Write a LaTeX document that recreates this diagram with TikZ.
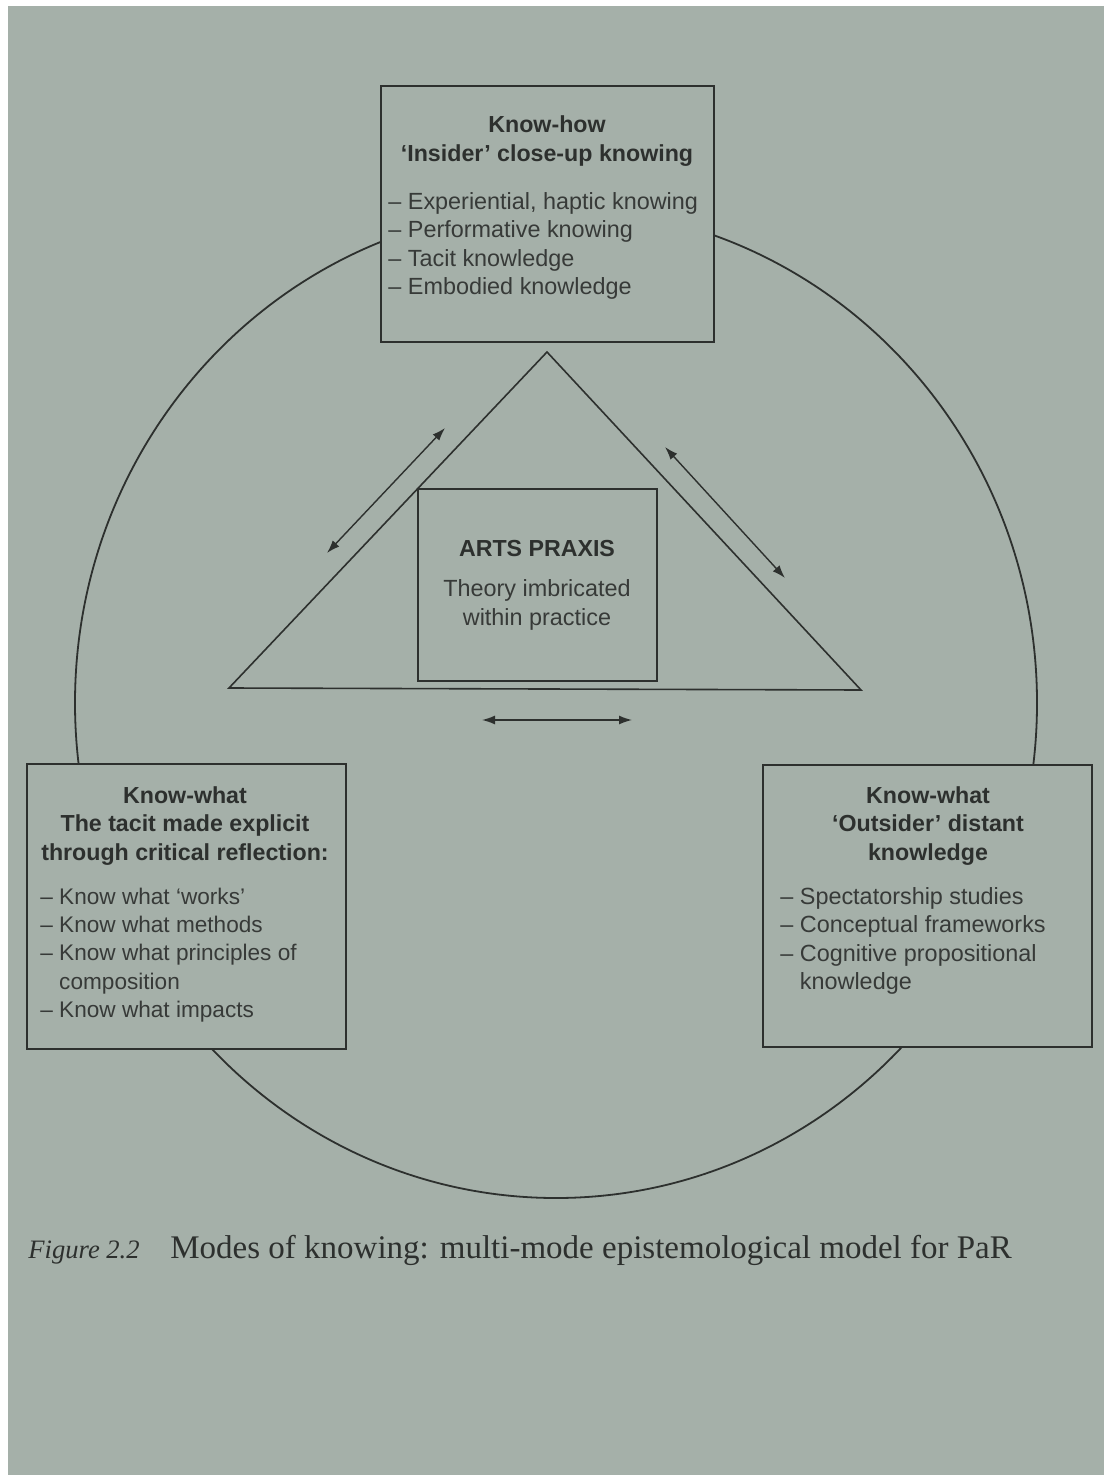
\documentclass[tikz,border=0pt]{standalone}
\usepackage{fontspec}
\setmainfont{Liberation Sans}
\newfontfamily\capfont{Liberation Serif}
\usetikzlibrary{arrows.meta}
\definecolor{paper}{RGB}{165,176,169}
\definecolor{ink}{RGB}{45,48,46}
\definecolor{softink}{RGB}{55,58,56}
\tikzset{
  panel/.style={draw=ink, line width=1pt, fill=paper, anchor=north west, inner sep=0pt},
  head/.style={text=ink, align=center, font=\bfseries\fontsize{11.6}{14.3}\selectfont, inner sep=0pt},
  body/.style={text=softink, align=left, font=\fontsize{11.7}{14.3}\selectfont, inner sep=0pt},
  bodyc/.style={text=softink, align=center, font=\fontsize{11.7}{14.3}\selectfont, inner sep=0pt},
  link/.style={draw=ink, line width=0.7pt, {Latex[length=6.5pt,width=4.5pt]}-{Latex[length=6.5pt,width=4.5pt]}},
  tri/.style={draw=ink, line width=0.8pt},
  ring/.style={draw=ink, line width=0.9pt}
}
\begin{document}
\begin{tikzpicture}[x=0.5pt,y=-0.5pt]
\useasboundingbox (0,0) rectangle (1104,1475);
\fill[white] (0,0) rectangle (1104,1475);
\fill[paper] (8,6) rectangle (1104,1475);

% outer ring
\draw[ring] (556,703) ellipse [x radius=481, y radius=495];

% triangle
\coordinate (apex) at (547,352);
\coordinate (bl) at (229,688);
\coordinate (br) at (861,690);
\draw[tri] (apex) -- (bl) -- (br) -- cycle;

% arrows
\coordinate (la1) at (445,428);
\coordinate (la2) at (327,553);
\coordinate (ra1) at (665,447);
\coordinate (ra2) at (785,578);
\coordinate (ba1) at (482,720);
\coordinate (ba2) at (632,720);
\draw[link] (la1) -- (la2);
\draw[link] (ra1) -- (ra2);
\draw[link] (ba1) -- (ba2);

% boxes
\node[panel, minimum width=166.5pt, minimum height=128pt] (topbox) at (380,85) {};
\node[panel, minimum width=159.5pt, minimum height=142.5pt] (leftbox) at (26,763) {};
\node[panel, minimum width=164.5pt, minimum height=141pt] (rightbox) at (762,764) {};
\node[panel, minimum width=119.5pt, minimum height=96pt, fill=none] (centerbox) at (417,488) {};

% top box text
\node[head] (tophead) at (547,141) {Know-how\\`Insider' close-up knowing};
\node[body, anchor=west] (toplist) at (388,246) {– Experiential, haptic knowing\\– Performative knowing\\– Tacit knowledge\\– Embodied knowledge};

% left box text
\node[head] (lefthead) at (185,826) {Know-what\\The tacit made explicit\\through critical reflection:};
\node[body, anchor=west, font=\fontsize{11.3}{14.2}\selectfont] (leftlist) at (40,955) {– Know what `works'\\– Know what methods\\– Know what principles of\\\phantom{– }composition\\– Know what impacts};

% right box text
\node[head] (righthead) at (928,826) {Know-what\\`Outsider' distant\\knowledge};
\node[body, anchor=west] (rightlist) at (780,941) {– Spectatorship studies\\– Conceptual frameworks\\– Cognitive propositional\\\phantom{– }knowledge};

% center text
\node[head] (centerhead) at (537,549) {ARTS PRAXIS};
\node[bodyc] (centerbody) at (537,605) {Theory imbricated\\within practice};

% caption
\node[text=ink, anchor=base west, inner sep=0pt, font=\capfont\itshape\fontsize{13.3}{15}\selectfont] (figlabel) at (28,1258) {Figure 2.2};
\node[text=ink, anchor=base west, inner sep=0pt, font=\capfont\fontsize{16.5}{18}\selectfont] (captext) at (170,1258) {Modes of knowing: multi-mode epistemological model for PaR};
\end{tikzpicture}
\end{document}
